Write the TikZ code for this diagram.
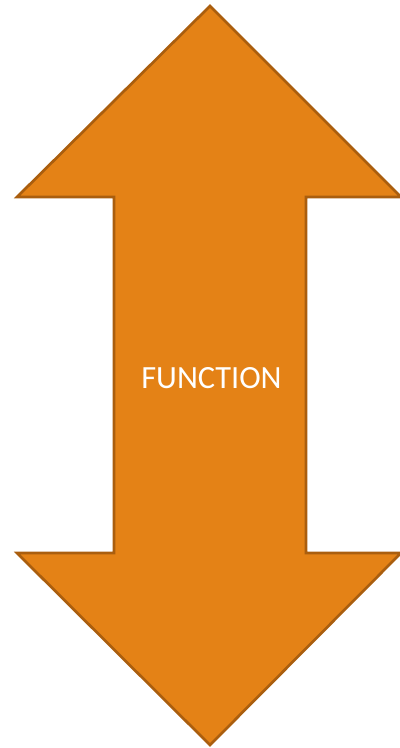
\documentclass[tikz,border=0pt]{standalone}
\usepackage{fontspec}
\setmainfont{Carlito}
\begin{document}
\begin{tikzpicture}[x=0.75pt,y=0.75pt,yscale=-1,xscale=1]
\useasboundingbox (0,0) rectangle (399,748);

%Shape: Up Down Arrow [id:dp4417203958] 
\draw [color={rgb, 255:red, 170; green, 94; blue, 14 }  ,draw opacity=1 ][fill={rgb, 255:red, 228; green, 130; blue, 22 }  ,fill opacity=1 ][line width=2]  (210,6) -- (401,197) -- (306,197) -- (306,553) -- (401,553) -- (210,745) -- (17,553) -- (114,553) -- (114,197) -- (17,197) -- cycle ;

% Text Node
\draw (211.5,378) node (func) [inner sep=0.75pt]  [font=\fontsize{24.3}{28}\selectfont] [color=white] [align=left] {FUNCTION};

\end{tikzpicture}
\end{document}
